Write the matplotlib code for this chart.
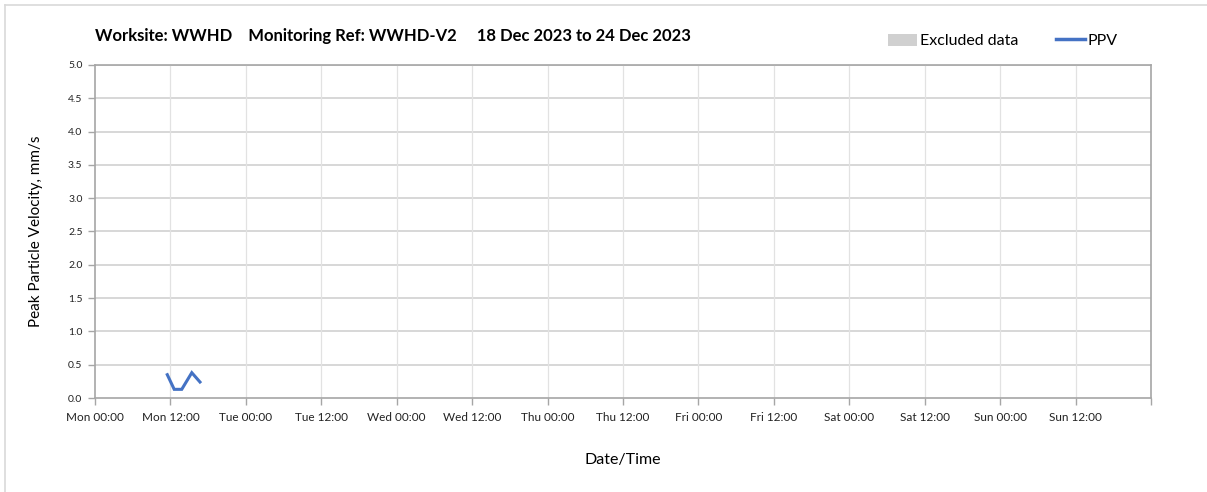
import matplotlib
matplotlib.use("Agg")
import matplotlib.pyplot as plt
from matplotlib.lines import Line2D
from matplotlib.patches import Patch

plt.rcParams["font.family"] = ["Lato", "DejaVu Sans"]

# hours since Mon 00:00 (18 Dec 2023)
ppv_hours = [11.5, 12.6, 13.8, 15.4, 16.7]
ppv_values = [0.35, 0.13, 0.13, 0.38, 0.24]

tick_hours = list(range(0, 169, 12))
tick_labels = ["Mon 00:00", "Mon 12:00", "Tue 00:00", "Tue 12:00", "Wed 00:00",
               "Wed 12:00", "Thu 00:00", "Thu 12:00", "Fri 00:00", "Fri 12:00",
               "Sat 00:00", "Sat 12:00", "Sun 00:00", "Sun 12:00", ""]
y_ticks = [0.0, 0.5, 1.0, 1.5, 2.0, 2.5, 3.0, 3.5, 4.0, 4.5, 5.0]

W, H = 1207, 492
fig = plt.figure(figsize=(W / 100, H / 100), dpi=100)
ax = fig.add_axes([95 / W, 1 - 398 / H, (1151 - 95) / W, (398 - 65) / H])

ax.plot(ppv_hours, ppv_values, color="#4472C4", lw=2.2, solid_joinstyle="miter")

ax.set_xlim(0, 168)
ax.set_ylim(0, 5)
ax.set_xticks(tick_hours)
ax.set_xticklabels(tick_labels, fontsize=8.5)
ax.set_yticks(y_ticks)
ax.set_yticklabels([f"{v:.1f}" for v in y_ticks], fontsize=7.5)

for y in y_ticks[1:]:
    ax.axhline(y, color="#d4d4d4", lw=1.3, zorder=0)
for x in tick_hours[1:-1]:
    ax.axvline(x, color="#e2e2e2", lw=0.9, zorder=0)

for spine in ax.spines.values():
    spine.set_color("#a6a6a6")
    spine.set_linewidth(1.2)
ax.tick_params(axis="both", color="#a6a6a6", length=5, width=1.0, colors="#222222")
ax.tick_params(axis="x", pad=5)
ax.tick_params(axis="y", pad=4)

ax.set_ylabel("Peak Particle Velocity, mm/s", fontsize=11, labelpad=18)
ax.set_xlabel("Date/Time", fontsize=11.5, labelpad=22)

fig.text(95 / W, 1 - 36 / H, "Worksite: WWHD    Monitoring Ref: WWHD-V2     18 Dec 2023 to 24 Dec 2023",
         fontsize=12, fontweight="bold", va="center", ha="left")

handles = [Patch(facecolor="#d0d0d0", edgecolor="none"),
           Line2D([], [], color="#4472C4", lw=2.5)]
fig.legend(handles, ["Excluded data", "PPV"], loc="center left",
           bbox_to_anchor=(874 / W, 1 - 41 / H), ncol=2, frameon=False,
           fontsize=11.5, handlelength=1.8, handletextpad=0.15, columnspacing=2.4,
           handleheight=0.8)

# outer frame
fig.add_artist(Line2D([5 / W, 1], [1 - 4.5 / H] * 2, color="#d9d9d9", lw=1.2))
fig.add_artist(Line2D([5 / W] * 2, [0, 1 - 4.5 / H], color="#d9d9d9", lw=1.2))

fig.savefig("out.png", dpi=100)
